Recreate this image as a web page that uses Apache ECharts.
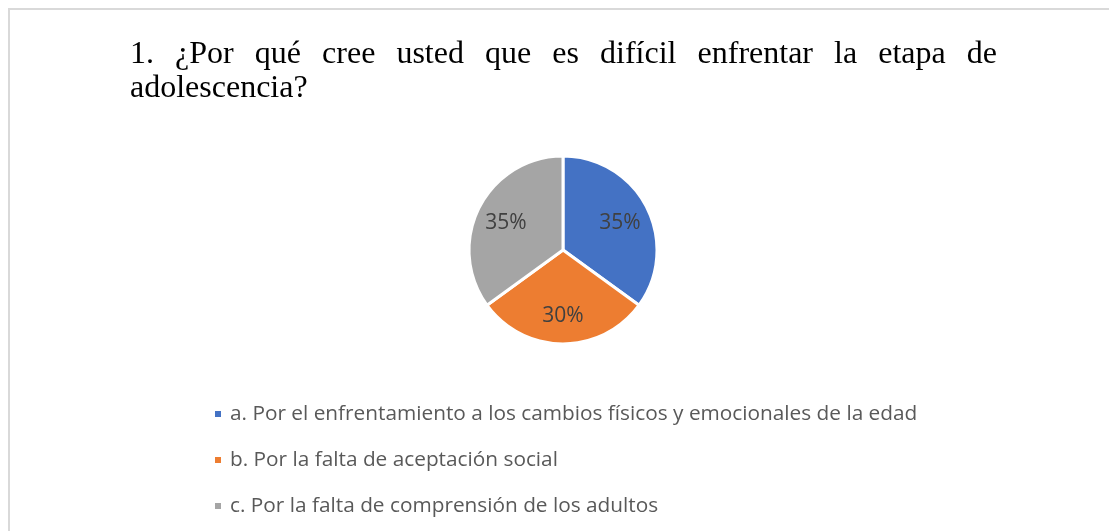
<!DOCTYPE html>
<html>
<head>
<meta charset="utf-8">
<script src="https://cdn.jsdelivr.net/npm/echarts@6/dist/echarts.min.js"></script>
<style>
  html, body { margin: 0; padding: 0; background: #fff; }
  #chart { width: 1109px; height: 531px; }
</style>
</head>
<body>
<div id="chart"></div>
<script>
const titleLine1 = "1. ¿Por qué cree usted que es difícil enfrentar la etapa de";
const titleLine2 = "adolescencia?";
const categories = [
  "a. Por el enfrentamiento a los cambios físicos y emocionales de la edad",
  "b. Por la falta de aceptación social",
  "c. Por la falta de comprensión de los adultos",
];
const values = [35, 30, 35];
const colors = ["#4472C4", "#ED7D31", "#A5A5A5"];

const titleFont = "32px 'Liberation Serif'";
const titleLeft = 130;
const titleRight = 997;

// justified first line: spread the words between left and right edges
const measureCtx = document.createElement("canvas").getContext("2d");
measureCtx.font = titleFont;
const words = titleLine1.split(" ");
const widths = words.map((w) => measureCtx.measureText(w).width);
const totalW = widths.reduce((a, b) => a + b, 0);
const gap = (titleRight - titleLeft - totalW) / (words.length - 1);

const titleEls = [];
let cx = titleLeft;
words.forEach((w, i) => {
  titleEls.push({
    type: "text",
    style: { text: w, x: cx, y: 71, font: titleFont, fill: "#000", verticalAlign: "bottom" },
  });
  cx += widths[i] + gap;
});
titleEls.push({
  type: "text",
  style: { text: titleLine2, x: titleLeft, y: 105, font: titleFont, fill: "#000", verticalAlign: "bottom" },
});

const chart = echarts.init(document.getElementById("chart"));

const pieData = categories.map((name, i) => ({ name, value: values[i] }));

chart.setOption({
  animation: false,
  color: colors,
  graphic: [
    { type: "line", shape: { x1: 8, y1: 9, x2: 1109, y2: 9 }, style: { stroke: "#d9d9d9", lineWidth: 2 } },
    { type: "line", shape: { x1: 9, y1: 9, x2: 9, y2: 531 }, style: { stroke: "#d9d9d9", lineWidth: 2 } },
    ...titleEls,
  ],
  legend: {
    orient: "vertical",
    left: 208,
    top: 398,
    itemWidth: 8,
    itemHeight: 8,
    itemGap: 24,
    icon: "rect",
    data: categories,
    textStyle: {
      color: "#595959",
      fontSize: 20.8,
      fontFamily: "Open Sans",
      lineHeight: 22,
      padding: [0, 0, 0, 3],
    },
  },
  series: [
    {
      type: "pie",
      center: [563, 250],
      radius: [0, 94],
      startAngle: 90,
      clockwise: true,
      data: pieData,
      label: { show: false },
      labelLine: { show: false },
      itemStyle: { borderColor: "#fff", borderWidth: 3 },
      emphasis: { disabled: true },
    },
    {
      // transparent overlay used only to place the percentage labels
      type: "pie",
      center: [563, 252],
      radius: [0, 122],
      startAngle: 90,
      clockwise: true,
      silent: true,
      data: pieData,
      itemStyle: { color: "rgba(0,0,0,0)" },
      label: {
        show: true,
        position: "inside",
        formatter: "{c}%",
        color: "#404040",
        fontSize: 21,
        fontFamily: "Open Sans",
      },
      labelLine: { show: false },
      emphasis: { disabled: true },
    },
  ],
});
</script>
</body>
</html>
